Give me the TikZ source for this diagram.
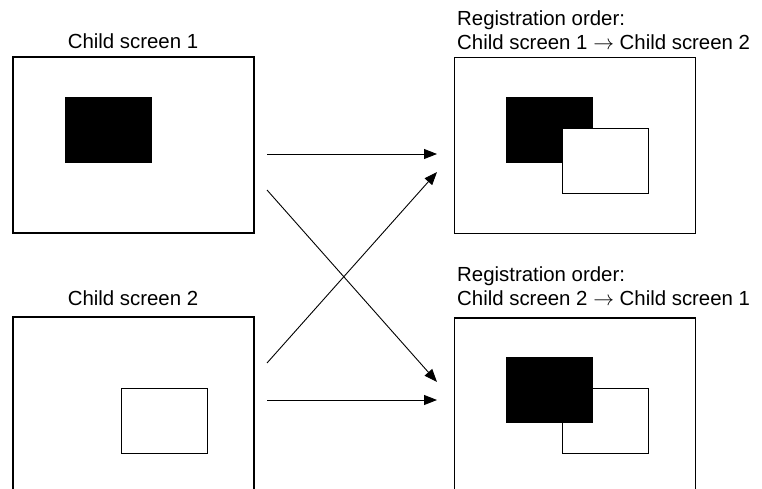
\documentclass[tikz,border=0pt]{standalone}
\usepackage{fontspec}
\setmainfont{Liberation Sans}
\usetikzlibrary{arrows.meta}
\newcommand{\twolines}[2]{\vtop{\baselineskip=24pt\hbox{#1}\hbox{#2}}}
\begin{document}
\begin{tikzpicture}[x=1pt,y=-1pt,
  screen/.style={draw, line width=1.8pt, inner sep=0pt, outer sep=0pt, minimum width=241pt, minimum height=176pt},
  win/.style={draw, line width=0.9pt, inner sep=0pt, outer sep=0pt, minimum width=86pt, minimum height=65pt},
  blackwin/.style={win, fill=black},
  whitewin/.style={win, fill=white},
  lbl/.style={inner sep=0pt, font=\fontsize{20.4}{24}\selectfont},
  conn/.style={line width=0.9pt, -{Triangle[length=13pt,width=10pt]}}]
\path[use as bounding box] (0,0) rectangle (762,489);
\clip (0,0) rectangle (762,489);
% screens
\node[screen] (s1) at (133.5,145) {};
\node[screen] (s2) at (133.5,405) {};
\node[screen] (r1) at (575,145.5) {};
\node[screen] (r2) at (575,406) {};
% titles
\node[lbl, anchor=base] (t1) at (133,49) {Child screen 1};
\node[lbl, anchor=base] (t2) at (133,305) {Child screen 2};
\node[lbl, anchor=base west] (h1) at (457,25.5) {\twolines{Registration order:}{Child screen 1 $\rightarrow$ Child screen 2}};
\node[lbl, anchor=base west] (h2) at (457,281.5) {\twolines{Registration order:}{Child screen 2 $\rightarrow$ Child screen 1}};
% windows
\node[blackwin] (w1) at (108,130) {};
\node[whitewin] (w2) at (164,420.5) {};
\node[blackwin] (r1b) at (549,130) {};
\node[whitewin] (r1w) at (605,161) {};
\node[whitewin] (r2w) at (605,420.5) {};
\node[blackwin] (r2b) at (549,389.5) {};
% arrows
\coordinate (a1s) at (267,154);
\coordinate (a1e) at (437,154);
\coordinate (a2s) at (267,190);
\coordinate (a2e) at (437,382);
\coordinate (a3s) at (267,363);
\coordinate (a3e) at (437,172);
\coordinate (a4s) at (267,400);
\coordinate (a4e) at (437,400);
\draw[conn] (a1s) -- (a1e);
\draw[conn] (a2s) -- (a2e);
\draw[conn] (a3s) -- (a3e);
\draw[conn] (a4s) -- (a4e);
\end{tikzpicture}
\end{document}
